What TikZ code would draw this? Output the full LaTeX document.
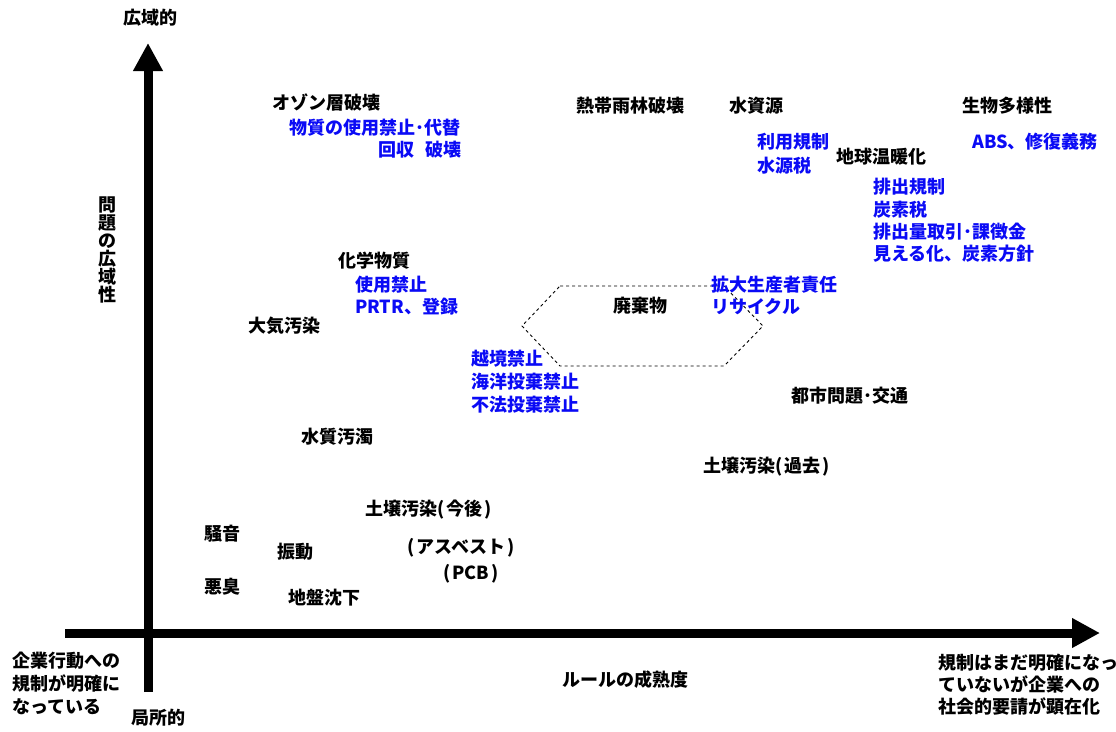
\documentclass[tikz,border=0pt]{standalone}
\usepackage{fontspec}
\setmainfont{Noto Sans CJK JP}
\usetikzlibrary{arrows.meta}
\definecolor{regblue}{RGB}{10,10,245}
\newcommand{\lp}{(\hspace{2pt}}
\newcommand{\rp}{\hspace{2pt})}
\tikzset{
  lbl/.style={anchor=base west,inner sep=0pt,font=\fontsize{18}{21}\selectfont\bfseries},
  issue/.style={lbl,text=black},
  rule/.style={lbl,text=regblue},
  axis/.style={line width=9pt,-{Triangle[width=28pt,length=28pt]}},
  hexa/.style={draw=black,dashed,line width=0.9pt}
}
\begin{document}
\begin{tikzpicture}[x=1pt,y=-1pt]
\useasboundingbox (0,0) rectangle (1116,731);
% axes
\coordinate (vbot) at (148,692);
\coordinate (vtop) at (148,43);
\coordinate (hleft) at (65,633);
\coordinate (hright) at (1100,633);
\draw[axis] (vbot) -- (vtop);
\draw[axis] (hleft) -- (hright);
% axis labels
\node[lbl,anchor=center] (wide) at (150,18) {広域的};
\node[lbl,anchor=center] (local) at (158,718) {局所的};
\node[lbl,anchor=center,align=center] (yname) at (107,250) {問\\[-3pt]題\\[-3pt]の\\[-3pt]広\\[-3pt]域\\[-3pt]性};
\node[lbl,anchor=center] (xname) at (625,680) {ルールの成熟度};
\node[lbl] (xl1) at (12,667) {企業行動への};
\node[lbl] (xl2) at (12,690) {規制が明確に};
\node[lbl] (xl3) at (12,713) {なっている};
\node[lbl] (xr1) at (938,669) {規制はまだ明確になっ};
\node[lbl] (xr2) at (938,691) {ていないが企業への};
\node[lbl] (xr3) at (938,713) {社会的要請が顕在化};
% waste hexagon
\coordinate (h1) at (560,286);
\coordinate (h2) at (724,286);
\coordinate (h3) at (763,326);
\coordinate (h4) at (724,366);
\coordinate (h5) at (560,366);
\coordinate (h6) at (522,326);
\draw[hexa] (h1) -- (h2) -- (h3) -- (h4) -- (h5) -- (h6) -- cycle;
% issues
\node[issue] (ozone) at (272,109) {オゾン層破壊};
\node[rule] (oz1) at (289,134) {物質の使用禁止･代替};
\node[rule] (oz2) at (378,156) {回収\hspace{0.6em}破壊};
\node[issue] (forest) at (576,112) {熱帯雨林破壊};
\node[issue] (water) at (729,112) {水資源};
\node[rule] (wa1) at (757,148) {利用規制};
\node[rule] (wa2) at (757,172) {水源税};
\node[issue] (bio) at (962,112) {生物多様性};
\node[rule] (bi1) at (972,148) {ABS、修復義務};
\node[issue] (warm) at (836,163) {地球温暖化};
\node[rule] (wm1) at (873,193) {排出規制};
\node[rule] (wm2) at (873,216) {炭素税};
\node[rule] (wm3) at (873,238) {排出量取引･課徴金};
\node[rule] (wm4) at (873,260) {見える化、炭素方針};
\node[issue] (chem) at (338,267) {化学物質};
\node[rule] (ch1) at (355,291) {使用禁止};
\node[rule] (ch2) at (355,313) {PRTR、登録};
\node[issue] (air) at (248,332) {大気汚染};
\node[issue] (waste) at (613,312) {廃棄物};
\node[rule] (ws1) at (711,291) {拡大生産者責任};
\node[rule] (ws2) at (711,313) {リサイクル};
\node[rule] (ws3) at (471,365) {越境禁止};
\node[rule] (ws4) at (471,388) {海洋投棄禁止};
\node[rule] (ws5) at (471,411) {不法投棄禁止};
\node[issue] (urban) at (791,402) {都市問題･交通};
\node[issue] (wpol) at (301,443) {水質汚濁};
\node[issue] (soilp) at (703,472) {土壌汚染\lp 過去\rp};
\node[issue] (soilf) at (365,515) {土壌汚染\lp 今後\rp};
\node[issue] (noise) at (204,540) {騒音};
\node[issue] (vib) at (277,558) {振動};
\node[issue] (asb) at (407,553) {\lp アスベスト\rp};
\node[issue] (pcb) at (443,579) {\lp PCB\rp};
\node[issue] (odor) at (204,593) {悪臭};
\node[issue] (subs) at (288,604) {地盤沈下};
\end{tikzpicture}
\end{document}
